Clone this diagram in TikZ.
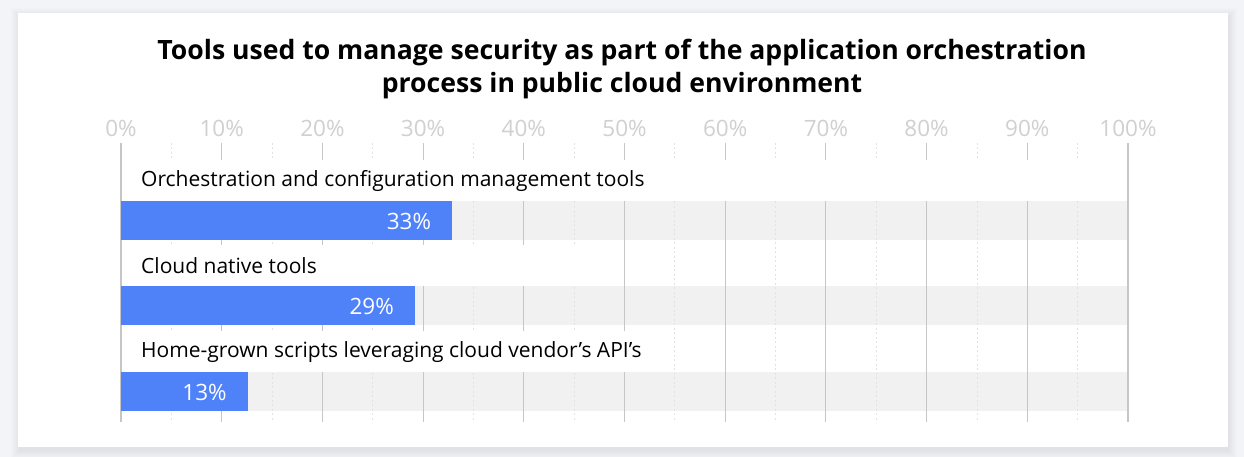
\documentclass[tikz,border=0pt]{standalone}
\usepackage{fontspec}
\setmainfont{Open Sans}
\usetikzlibrary{positioning,calc}
\definecolor{pagebg}{HTML}{F3F4F8}
\definecolor{barblue}{HTML}{4F82F9}
\definecolor{track}{HTML}{F1F1F1}
\definecolor{gridc}{HTML}{C6C6C6}
\definecolor{minorc}{HTML}{E2E2E2}
\definecolor{axislbl}{HTML}{D0D0D0}

\begin{document}
\begin{tikzpicture}[x=1pt,y=-1pt,
  title/.style={font=\fontsize{26.6}{33}\selectfont\bfseries,align=center,inner sep=0pt},
  tick/.style={font=\fontsize{22.5}{26}\selectfont,color=axislbl,inner sep=0pt},
  cat/.style={font=\fontsize{21}{25}\selectfont,anchor=west,inner sep=0pt},
  val/.style={font=\fontsize{22.5}{26}\selectfont,color=white,anchor=east,inner sep=0pt},
  major/.style={gridc,line width=1.1pt},
  minor/.style={minorc,line width=0.9pt,dash pattern=on 2pt off 2.5pt}]
  \useasboundingbox (0,0) rectangle (1244,457);
  \fill[pagebg] (0,0) rectangle (1244,457);
  % soft shadow under the card
  \foreach \k in {1,...,9}{\fill[black!60!blue,opacity=0.008] (18-\k+2,13-\k+4) rectangle (1228+\k,447+\k+3);}
  \fill[white] (18,13) rectangle (1228,447);
  \node[title] (title) at (622,69) {Tools used to manage security as part of the application orchestration\\process in public cloud environment};
  % grey tracks
  \foreach \t in {201,286,372}{\fill[track] (121,\t) rectangle (1128,\t+39);}
  % grid and axis labels
  \foreach \p in {0,10,...,100}{
    \pgfmathsetmacro\gx{121+10.07*\p}
    \node[tick] (ax\p) at (\gx,128) {\p\%};
    \draw[major] (\gx,143) -- (\gx,422);
  }
  \foreach \p in {5,15,...,95}{
    \pgfmathsetmacro\gx{121+10.07*\p}
    \draw[minor] (\gx,143) -- (\gx,422);
  }
  % label rows, bars and values (\r is the unrounded share)
  \foreach \i/\t/\v/\r/\w/\txt in {1/201/33/32.9/1110/Orchestration and configuration management tools,
      2/286/29/29.2/595/Cloud native tools,
      3/372/13/12.6/660/Home-grown scripts leveraging cloud vendor’s API’s}{
    \pgfmathsetmacro\bx{121+10.07*\r}
    \fill[white] (122,\t-41) rectangle (\w,\t);
    \node[cat] (cat\i) at (141,\t-20) {\txt};
    \fill[barblue] (121,\t) rectangle (\bx,\t+39);
    \node[val] (val\i) at (\bx-21,\t+20) {\v\%};
  }
\end{tikzpicture}
\end{document}
